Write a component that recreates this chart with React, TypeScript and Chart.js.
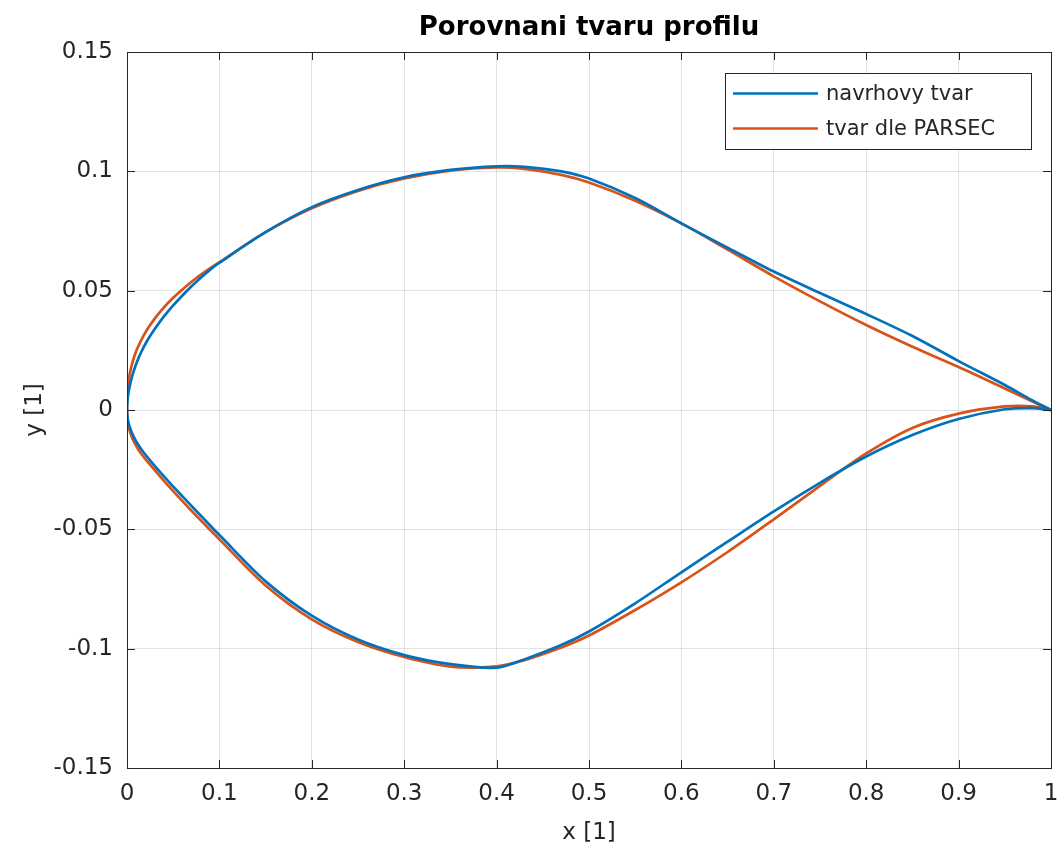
import React, { useEffect, useRef } from "react";
import { Chart, registerables } from "chart.js";

Chart.register(...registerables);

const chartTitle = "Porovnani tvaru profilu";
const xAxisTitle = "x [1]";
const yAxisTitle = "y [1]";
const seriesNames = ["navrhovy tvar", "tvar dle PARSEC"];
const seriesColors = ["#0072BD", "#D95319"];

const xTickLabels = ["0", "0.1", "0.2", "0.3", "0.4", "0.5", "0.6", "0.7", "0.8", "0.9", "1"];
const yTickLabels = ["-0.15", "-0.1", "-0.05", "0", "0.05", "0.1", "0.15"];

// chord stations
const xStations = [0, 0.001, 0.003, 0.006, 0.01, 0.015, 0.022, 0.03, 0.04, 0.05, 0.06, 0.075, 0.09, 0.1, 0.15, 0.2, 0.25, 0.3, 0.35, 0.4, 0.43, 0.47, 0.5, 0.55, 0.6, 0.65, 0.7, 0.75, 0.8, 0.85, 0.9, 0.95, 0.98, 1.0];

// navrhovy tvar (design shape)
const designUpper = [0, 0.0058, 0.0101, 0.0147, 0.0194, 0.024, 0.0291, 0.0339, 0.0392, 0.0438, 0.048, 0.0537, 0.0588, 0.0617, 0.0745, 0.085, 0.0922, 0.0975, 0.1006, 0.1021, 0.1019, 0.1, 0.097, 0.0888, 0.0782, 0.068, 0.058, 0.049, 0.0402, 0.031, 0.0205, 0.0105, 0.004, 0];
const designLower = [0, -0.0042, -0.0072, -0.0102, -0.0132, -0.0162, -0.0197, -0.0234, -0.0278, -0.0321, -0.0362, -0.0423, -0.0484, -0.0524, -0.0718, -0.0862, -0.0962, -0.1027, -0.1065, -0.108, -0.1045, -0.0985, -0.0928, -0.081, -0.068, -0.0552, -0.0425, -0.0305, -0.0195, -0.0105, -0.0038, 0.0003, 0.0008, 0];

// tvar dle PARSEC
const parsecUpper = [0, 0.0098, 0.0152, 0.0201, 0.0247, 0.029, 0.0338, 0.0383, 0.043, 0.047, 0.0505, 0.0553, 0.0594, 0.0619, 0.0745, 0.0845, 0.0918, 0.097, 0.1003, 0.1016, 0.101, 0.0985, 0.0953, 0.0877, 0.0782, 0.0672, 0.056, 0.0455, 0.0356, 0.0265, 0.018, 0.009, 0.0035, 0];
const parsecLower = [0, -0.0055, -0.0089, -0.0121, -0.0151, -0.0181, -0.0215, -0.0252, -0.0297, -0.034, -0.0382, -0.0443, -0.0503, -0.0542, -0.0735, -0.0877, -0.0972, -0.1035, -0.1075, -0.1074, -0.1048, -0.0995, -0.0945, -0.0838, -0.0722, -0.0595, -0.0458, -0.0318, -0.0182, -0.0075, -0.0015, 0.0015, 0.0015, 0];

const FONT = "'DejaVu Sans', 'Liberation Sans', Arial, sans-serif";
const TEXT = "#262626";

function contour(upper: number[], lower: number[]) {
  const pts: { x: number; y: number }[] = [];
  for (let i = xStations.length - 1; i >= 0; i--) pts.push({ x: xStations[i], y: upper[i] });
  for (let i = 1; i < xStations.length; i++) pts.push({ x: xStations[i], y: lower[i] });
  return pts;
}

const decorPlugin = {
  id: "decor",
  afterDraw(chart: any) {
    const { ctx, chartArea } = chart;
    const { left, right, top, bottom } = chartArea;
    const xs = chart.scales.x;
    const ys = chart.scales.y;
    ctx.save();
    // border
    ctx.strokeStyle = TEXT;
    ctx.lineWidth = 1;
    ctx.strokeRect(Math.round(left) + 0.5, Math.round(top) + 0.5, Math.round(right - left), Math.round(bottom - top));
    // inward ticks
    const tl = 8;
    ctx.beginPath();
    xTickLabels.forEach((_, i) => {
      const px = Math.round(xs.getPixelForValue(i * 0.1)) + 0.5;
      ctx.moveTo(px, bottom);
      ctx.lineTo(px, bottom - tl);
      ctx.moveTo(px, top);
      ctx.lineTo(px, top + tl);
    });
    yTickLabels.forEach((_, i) => {
      const py = Math.round(ys.getPixelForValue(-0.15 + i * 0.05)) + 0.5;
      ctx.moveTo(left, py);
      ctx.lineTo(left + tl, py);
      ctx.moveTo(right, py);
      ctx.lineTo(right - tl, py);
    });
    ctx.stroke();

    // title
    ctx.fillStyle = "#000";
    ctx.font = `bold 26px ${FONT}`;
    ctx.textAlign = "center";
    ctx.textBaseline = "middle";
    ctx.fillText(chartTitle, (left + right) / 2, 28);

    // axis titles
    ctx.fillStyle = TEXT;
    ctx.font = `23px ${FONT}`;
    ctx.fillText(xAxisTitle, (left + right) / 2, 833);
    ctx.save();
    ctx.translate(35, (top + bottom) / 2);
    ctx.rotate(-Math.PI / 2);
    ctx.fillText(yAxisTitle, 0, 0);
    ctx.restore();

    // legend
    const bx = 725, by = 73, bw = 306, bh = 76;
    ctx.fillStyle = "#fff";
    ctx.fillRect(bx, by, bw, bh);
    ctx.strokeStyle = TEXT;
    ctx.lineWidth = 1;
    ctx.strokeRect(bx + 0.5, by + 0.5, bw, bh);
    ctx.font = `21px ${FONT}`;
    ctx.textAlign = "left";
    seriesNames.forEach((name, i) => {
      const yy = 93.5 + i * 35;
      ctx.strokeStyle = seriesColors[i];
      ctx.lineWidth = 2.5;
      ctx.beginPath();
      ctx.moveTo(733, yy);
      ctx.lineTo(818, yy);
      ctx.stroke();
      ctx.fillStyle = TEXT;
      ctx.fillText(name, 826, yy + 1);
    });
    ctx.restore();
  },
};

export default function App() {
  const ref = useRef<HTMLCanvasElement | null>(null);
  useEffect(() => {
    if (!ref.current) return;
    const chart = new Chart(ref.current, {
      type: "scatter",
      data: {
        datasets: [
          {
            label: seriesNames[0],
            data: contour(designUpper, designLower),
            showLine: true,
            borderColor: seriesColors[0],
            backgroundColor: seriesColors[0],
            borderWidth: 2.7,
            pointRadius: 0,
            tension: 0.3,
          },
          {
            label: seriesNames[1],
            data: contour(parsecUpper, parsecLower),
            showLine: true,
            borderColor: seriesColors[1],
            backgroundColor: seriesColors[1],
            borderWidth: 2.7,
            pointRadius: 0,
            tension: 0.3,
          },
        ],
      },
      options: {
        responsive: false,
        maintainAspectRatio: false,
        animation: false,
        layout: { padding: { left: 0, top: 52, right: 11, bottom: 0 } },
        plugins: {
          legend: { display: false },
          title: { display: false },
          tooltip: { enabled: false },
        },
        scales: {
          x: {
            type: "linear",
            min: 0,
            max: 1,
            afterFit: (s: any) => {
              s.height = 88;
              s.paddingLeft = 0;
              s.paddingRight = 0;
            },
            ticks: {
              stepSize: 0.1,
              padding: 12,
              color: TEXT,
              font: { family: FONT, size: 23 },
              maxRotation: 0,
              autoSkip: false,
              callback: (v: any) => xTickLabels[Math.round(Number(v) * 10)] ?? "",
            },
            grid: { color: "rgba(38,38,38,0.13)", drawTicks: false, lineWidth: 1 },
            border: { display: false },
          },
          y: {
            type: "linear",
            min: -0.15,
            max: 0.15,
            afterFit: (s: any) => {
              s.width = 127;
              s.paddingTop = 0;
              s.paddingBottom = 0;
            },
            ticks: {
              stepSize: 0.05,
              padding: 14,
              color: TEXT,
              font: { family: FONT, size: 23 },
              callback: (v: any) => yTickLabels[Math.round((Number(v) + 0.15) / 0.05)] ?? "",
            },
            grid: { color: "rgba(38,38,38,0.13)", drawTicks: false, lineWidth: 1 },
            border: { display: false },
          },
        },
      },
      plugins: [decorPlugin],
    });
    return () => chart.destroy();
  }, []);
  return (
    <div style={{ position: "absolute", left: 0, top: 0, width: 1062, height: 856, background: "#fff" }}>
      <canvas ref={ref} width={1062} height={856} />
    </div>
  );
}
